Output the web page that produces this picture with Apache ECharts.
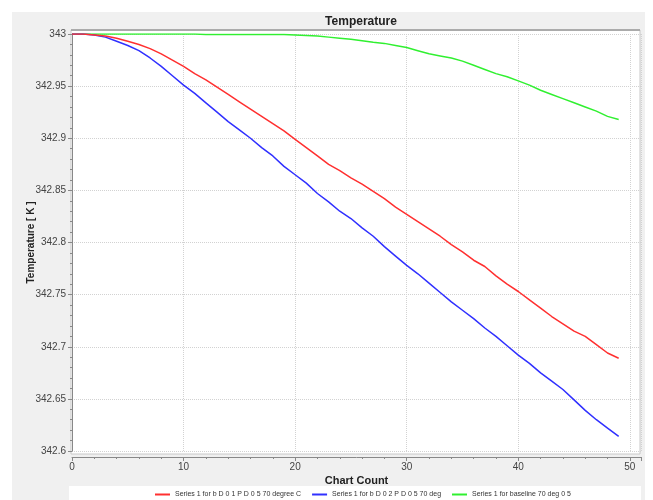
<!DOCTYPE html>
<html>
<head>
<meta charset="utf-8">
<script src="https://cdn.jsdelivr.net/npm/echarts@6/dist/echarts.min.js"></script>
<style>html,body{margin:0;padding:0;background:#fff;}#c{width:653px;height:500px;}</style>
</head>
<body>
<div id="c"></div>
<script>
var xValues = [];
for (var i = 0; i < 50; i++) xValues.push(i);

var seriesNames = [
  "Series 1 for b D 0 1 P D 0 5 70 degree C",
  "Series 1 for b D 0 2 P D 0 5 70 deg",
  "Series 1 for baseline 70 deg 0 5"
];

var redValues = [343.000,343.000,342.999,342.998,342.996,342.993,342.990,342.986,342.981,342.975,
  342.969,342.962,342.956,342.949,342.942,342.935,342.928,342.921,342.914,342.907,
  342.899,342.891,342.883,342.875,342.869,342.862,342.856,342.849,342.842,342.834,
  342.827,342.820,342.813,342.806,342.798,342.791,342.783,342.777,342.768,342.760,
  342.753,342.745,342.737,342.729,342.722,342.715,342.710,342.702,342.694,342.689];

var blueValues = [343.000,343.000,342.999,342.997,342.993,342.989,342.984,342.977,342.969,342.960,
  342.951,342.943,342.934,342.925,342.916,342.908,342.900,342.891,342.883,342.873,
  342.865,342.857,342.847,342.839,342.830,342.823,342.814,342.806,342.796,342.787,
  342.778,342.770,342.761,342.752,342.743,342.735,342.727,342.718,342.710,342.701,
  342.692,342.684,342.675,342.667,342.659,342.649,342.639,342.630,342.622,342.614];

var greenValues = [343.000,343.000,343.000,343.000,343.000,343.000,343.000,343.000,343.000,343.000,
  343.000,343.000,342.9995,342.9995,342.9995,342.9995,342.9995,342.9995,342.9995,342.9995,
  342.999,342.9985,342.998,342.997,342.996,342.995,342.9935,342.992,342.991,342.989,
  342.987,342.984,342.981,342.979,342.977,342.974,342.970,342.966,342.962,342.959,
  342.955,342.951,342.946,342.942,342.938,342.934,342.930,342.926,342.921,342.918];

var colors = ['#ff3030', '#3030ff', '#30f030'];
var valueSets = [redValues, blueValues, greenValues];

function pairs(vals) {
  return vals.map(function (v, i) { return [xValues[i], v]; });
}

var font = 'Liberation Sans';
var chart = echarts.init(document.getElementById('c'));
chart.setOption({
  animation: false,
  backgroundColor: '#ffffff',
  textStyle: { fontFamily: font },
  graphic: [
    { type: 'rect', z: -30, silent: true, shape: { x: 12, y: 12, width: 633, height: 488 }, style: { fill: '#f0f0f0' } },
    { type: 'rect', z: -20, silent: true, shape: { x: 71, y: 30, width: 569, height: 424 }, style: { fill: '#ffffff', stroke: '#c8c8c8', lineWidth: 1 } },
    { type: 'line', z: -19, silent: true, shape: { x1: 71, y1: 30, x2: 640, y2: 30 }, style: { stroke: '#ababab', lineWidth: 2 } },
    { type: 'rect', z: -20, silent: true, shape: { x: 69, y: 486, width: 572, height: 14 }, style: { fill: '#ffffff' } }
  ],
  title: {
    text: 'Temperature',
    left: 356, top: 11, textAlign: 'center',
    textStyle: { fontFamily: font, fontSize: 12, fontWeight: 'bold', color: '#222' }
  },
  legend: {
    data: seriesNames,
    left: 150, top: 486,
    itemWidth: 15, itemHeight: 2, itemGap: 11,
    icon: 'rect',
    textStyle: { fontFamily: font, fontSize: 7, color: '#333' }
  },
  grid: { left: 72, right: 12, top: 34, bottom: 49, containLabel: false },
  xAxis: {
    type: 'value', min: 0, max: 51, interval: 10,
    offset: 6,
    name: 'Chart Count', nameLocation: 'middle', nameGap: 18,
    nameMoveOverlap: false,
    nameTextStyle: { fontFamily: font, fontSize: 11, fontWeight: 'bold', color: '#222' },
    axisLine: { show: true, lineStyle: { color: '#888', width: 1 } },
    axisTick: { show: true, length: 4, lineStyle: { color: '#888' } },
    minorTick: { show: true, splitNumber: 5, length: 2, lineStyle: { color: '#888' } },
    axisLabel: { fontFamily: font, fontSize: 10, color: '#444', margin: 5,
      formatter: function (v) { return v > 50 ? '' : String(v); } },
    splitLine: { show: true, lineStyle: { color: '#d2d2d2', type: [1, 1], width: 1 } }
  },
  yAxis: {
    type: 'value', min: 342.6, max: 343, interval: 0.05,
    offset: 2,
    name: 'Temperature [ K ]', nameLocation: 'middle', nameGap: 34,
    nameMoveOverlap: false,
    nameTextStyle: { fontFamily: font, fontSize: 10, fontWeight: 'bold', color: '#222' },
    axisLine: { show: true, lineStyle: { color: '#888', width: 1 } },
    axisTick: { show: true, length: 4, lineStyle: { color: '#888' } },
    minorTick: { show: true, splitNumber: 5, length: 2, lineStyle: { color: '#888' } },
    axisLabel: { fontFamily: font, fontSize: 10, color: '#444', margin: 4,
      formatter: function (v) { return String(+v.toFixed(2)); } },
    splitLine: { show: true, lineStyle: { color: '#d2d2d2', type: [1, 1], width: 1 } }
  },
  series: seriesNames.map(function (n, k) {
    return {
      name: n, type: 'line', data: pairs(valueSets[k]),
      showSymbol: false, symbol: 'none',
      lineStyle: { color: colors[k], width: 1.5 },
      itemStyle: { color: colors[k] },
      z: 3 - k
    };
  })
});
</script>
</body>
</html>
